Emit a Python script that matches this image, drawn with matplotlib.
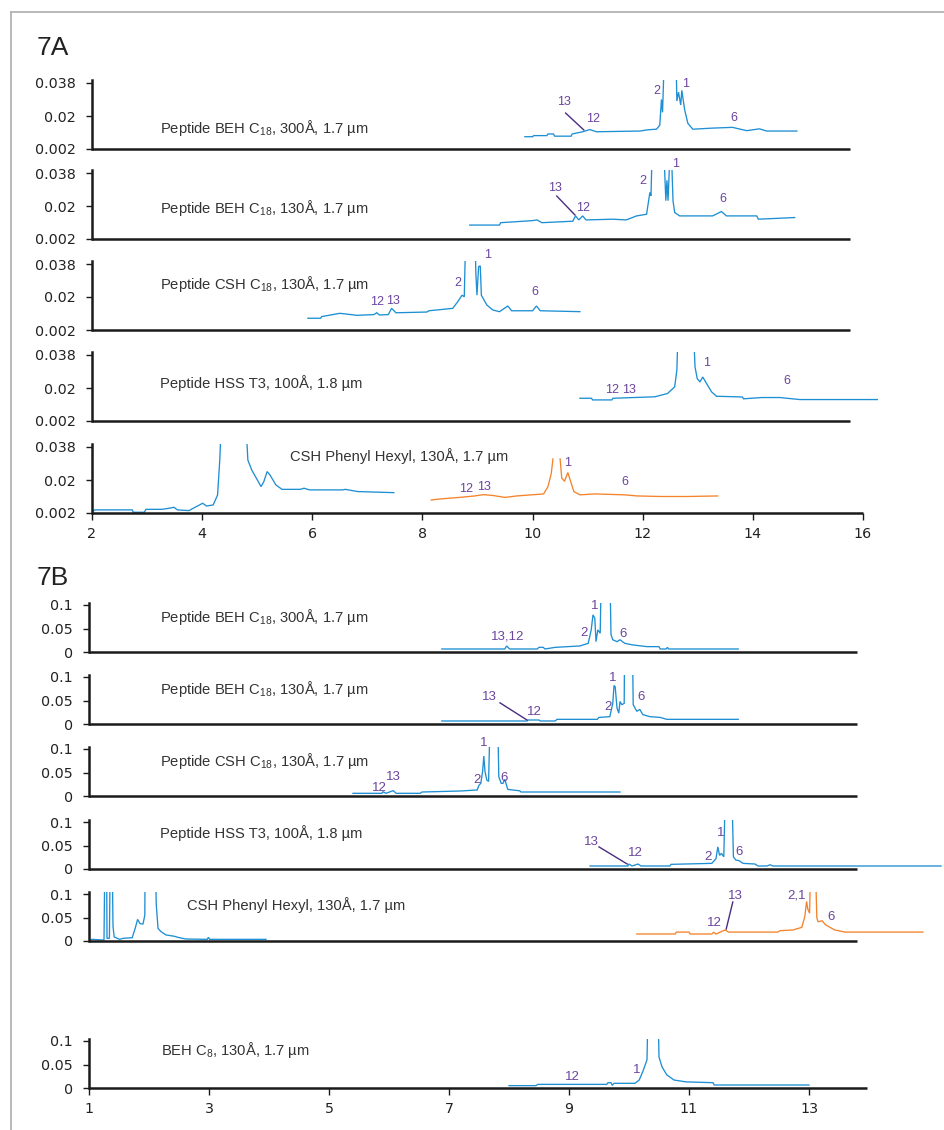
import numpy as np
import matplotlib
matplotlib.use("Agg")
import matplotlib.pyplot as plt
from matplotlib.lines import Line2D

W, H = 944, 1130
BLUE = '#1e8fd3'
ORANGE = '#f5832b'
PURPLE = '#6b449e'
LEADER = '#4a2d80'
INK = '#1a1a1a'

plt.rcParams.update({
    'font.family': 'DejaVu Sans',
    'mathtext.fontset': 'custom',
    'mathtext.rm': 'Liberation Sans',
    'mathtext.it': 'Liberation Sans:italic',
    'mathtext.bf': 'Liberation Sans:bold',
})

# ---------------------------------------------------------------------------
# Data (retention time in min, absorbance)
# ---------------------------------------------------------------------------
labels_a = ['Peptide BEH C$_{18}$, 300Å, 1.7 µm',
            'Peptide BEH C$_{18}$, 130Å, 1.7 µm',
            'Peptide CSH C$_{18}$, 130Å, 1.7 µm',
            'Peptide HSS T3, 100Å, 1.8 µm',
            'CSH Phenyl Hexyl, 130Å, 1.7 µm']
labels_b = labels_a + ['BEH C$_{8}$, 130Å, 1.7 µm']

yticks_a = [0.002, 0.02, 0.038]
ytick_labels_a = ['0.002', '0.02', '0.038']
yticks_b = [0, 0.05, 0.1]
ytick_labels_b = ['0', '0.05', '0.1']
xticks_a = [2, 4, 6, 8, 10, 12, 14, 16]
xticks_b = [1, 3, 5, 7, 9, 11, 13]

# 7A traces
a1_t = [9.86, 10.00, 10.02, 10.26, 10.28, 10.38, 10.40, 10.70, 10.72, 10.91, 11.04, 11.16,
        11.95, 12.10, 12.25, 12.31, 12.34, 12.36, 12.40, 12.60, 12.62, 12.65, 12.69, 12.71,
        12.76, 12.82, 12.91, 13.27, 13.63, 13.89, 14.12, 14.25, 14.80]
a1_y = [0.0087, 0.0087, 0.0093, 0.0093, 0.0102, 0.0102, 0.0090, 0.0090, 0.0102, 0.0114, 0.0126, 0.0114,
        0.0118, 0.0125, 0.0128, 0.0150, 0.0290, 0.0220, 0.060, 0.060, 0.0282, 0.0330, 0.0260, 0.0340,
        0.0236, 0.0160, 0.0128, 0.0134, 0.0138, 0.0120, 0.0130, 0.0118, 0.0118]

a2_t = [8.86, 9.40, 9.42, 9.99, 10.08, 10.17, 10.73, 10.78, 10.84, 10.91, 10.97, 11.46,
        11.70, 11.89, 12.07, 12.13, 12.15, 12.18, 12.37, 12.42, 12.44, 12.46, 12.51, 12.55,
        12.58, 12.67, 13.27, 13.43, 13.52, 14.07, 14.10, 14.76]
a2_y = [0.0096, 0.0096, 0.0109, 0.0120, 0.0124, 0.0109, 0.0117, 0.0146, 0.0124, 0.0146, 0.0124, 0.0128,
        0.0124, 0.0146, 0.0155, 0.0274, 0.0256, 0.060, 0.060, 0.0229, 0.0340, 0.0229, 0.060, 0.0229,
        0.0165, 0.0146, 0.0146, 0.0170, 0.0146, 0.0146, 0.0128, 0.0137]

a3_t = [5.92, 6.15, 6.17, 6.50, 6.62, 6.81, 7.12, 7.17, 7.22, 7.38, 7.44, 7.52, 8.08, 8.12,
        8.55, 8.64, 8.72, 8.76, 8.79, 8.95, 8.97, 8.99, 9.02, 9.05, 9.07, 9.17, 9.28, 9.40,
        9.55, 9.62, 10.00, 10.07, 10.14, 10.86]
a3_y = [0.0084, 0.0084, 0.0093, 0.0111, 0.0107, 0.0100, 0.0104, 0.0114, 0.0102, 0.0104, 0.0138, 0.0114,
        0.0118, 0.0125, 0.0138, 0.0174, 0.0210, 0.0201, 0.060, 0.060, 0.0329, 0.0210, 0.0365, 0.0370,
        0.0210, 0.0156, 0.0129, 0.0120, 0.0151, 0.0125, 0.0125, 0.0151, 0.0125, 0.0120]

a4_t = [10.86, 11.07, 11.09, 11.44, 11.46, 12.22, 12.45, 12.58, 12.62, 12.65, 12.91, 12.95,
        12.99, 13.04, 13.09, 13.16, 13.25, 13.34, 13.81, 13.83, 14.16, 14.49, 14.85, 15.79, 16.26]
a4_y = [0.0144, 0.0144, 0.0135, 0.0135, 0.0144, 0.0152, 0.0170, 0.0206, 0.0297, 0.060, 0.060, 0.0315,
        0.0251, 0.0233, 0.0260, 0.0224, 0.0179, 0.0155, 0.0151, 0.0141, 0.0148, 0.0148, 0.0137, 0.0137,
        0.0137]

a5_blue_t = [2.00, 2.05, 2.73, 2.75, 2.95, 2.98, 3.27, 3.40, 3.49, 3.55, 3.76, 3.87, 4.01, 4.08,
             4.20, 4.28, 4.32, 4.36, 4.78, 4.83, 4.90, 5.02, 5.07, 5.12, 5.18, 5.23, 5.34, 5.45,
             5.78, 5.85, 5.95, 6.55, 6.60, 6.82, 7.48]
a5_blue_y = [0.0027, 0.0037, 0.0037, 0.0024, 0.0024, 0.0040, 0.0040, 0.0046, 0.0051, 0.0037, 0.0033,
             0.0051, 0.0073, 0.0058, 0.0064, 0.0118, 0.0309, 0.060, 0.060, 0.0309, 0.0255, 0.0191,
             0.0164, 0.0191, 0.0246, 0.0228, 0.0173, 0.0149, 0.0149, 0.0155, 0.0146, 0.0146, 0.0149,
             0.0137, 0.0131]

a5_orange_t = [8.16, 8.30, 8.67, 8.95, 9.11, 9.27, 9.50, 9.71, 10.20, 10.28, 10.34, 10.37, 10.44,
               10.50, 10.53, 10.58, 10.64, 10.69, 10.75, 10.86, 11.13, 11.67, 11.90, 12.33, 12.80, 13.36]
a5_orange_y = [0.0091, 0.0096, 0.0105, 0.0113, 0.0120, 0.0116, 0.0105, 0.0113, 0.0124, 0.0164, 0.0237,
               0.0315, np.nan, 0.0315, 0.0210, 0.0193, 0.0241, 0.0193, 0.0137, 0.0119, 0.0124, 0.0119,
               0.0113, 0.0110, 0.0110, 0.0113]

# 7B traces
b1_t = [6.88, 7.93, 7.96, 8.01, 8.47, 8.50, 8.57, 8.60, 8.77, 9.18, 9.32, 9.37, 9.40, 9.43, 9.45,
        9.48, 9.52, 9.55, 9.67, 9.70, 9.73, 9.80, 9.85, 9.93, 10.07, 10.30, 10.50, 10.52, 10.62,
        10.64, 10.66, 11.82]
b1_y = [0.0064, 0.0064, 0.0128, 0.0064, 0.0064, 0.0099, 0.0099, 0.0064, 0.0099, 0.0128, 0.0184, 0.047,
        0.079, 0.072, 0.022, 0.047, 0.040, 0.25, 0.25, 0.037, 0.026, 0.022, 0.026, 0.0184, 0.0149,
        0.0114, 0.0114, 0.0064, 0.0064, 0.0099, 0.0064, 0.0064]

b2_t = [6.88, 8.30, 8.32, 8.50, 8.52, 8.77, 8.80, 9.47, 9.50, 9.68, 9.73, 9.75, 9.77, 9.80, 9.83,
        9.85, 9.88, 9.92, 9.93, 10.05, 10.07, 10.13, 10.18, 10.23, 10.35, 10.52, 10.63, 11.82]
b2_y = [0.0064, 0.0064, 0.0085, 0.0085, 0.0064, 0.0064, 0.0099, 0.0099, 0.0140, 0.0156, 0.044, 0.082,
        0.079, 0.034, 0.023, 0.048, 0.041, 0.044, 0.25, 0.25, 0.041, 0.027, 0.031, 0.020, 0.0156,
        0.0140, 0.0099, 0.0099]

b3_t = [5.40, 5.88, 5.90, 5.95, 6.07, 6.12, 6.52, 6.55, 7.18, 7.47, 7.50, 7.53, 7.56, 7.58, 7.60,
        7.63, 7.66, 7.70, 7.80, 7.83, 7.87, 7.90, 7.93, 7.98, 8.18, 8.20, 9.85]
b3_y = [0.0057, 0.0057, 0.0090, 0.0057, 0.0114, 0.0057, 0.0057, 0.0085, 0.0106, 0.0128, 0.023, 0.027,
        0.052, 0.085, 0.052, 0.034, 0.031, 0.25, 0.25, 0.041, 0.027, 0.027, 0.0355, 0.014, 0.011,
        0.0085, 0.0085]

b4_t = [9.35, 9.98, 10.00, 10.05, 10.15, 10.20, 10.68, 10.70, 11.38, 11.45, 11.48, 11.51, 11.54,
        11.58, 11.62, 11.70, 11.74, 11.78, 11.83, 11.90, 12.10, 12.15, 12.30, 12.35, 12.40, 15.20]
b4_y = [0.0064, 0.0064, 0.0106, 0.0064, 0.0106, 0.0064, 0.0064, 0.0099, 0.0120, 0.022, 0.047, 0.029,
        0.0333, 0.026, 0.25, 0.25, 0.026, 0.019, 0.018, 0.012, 0.0106, 0.0064, 0.0064, 0.0090, 0.0064,
        0.0064]

b5_blue_t = [1.00, 1.05, 1.25, 1.27, 1.29, 1.30, 1.34, 1.36, 1.38, 1.40, 1.42, 1.51, 1.57, 1.72,
             1.77, 1.81, 1.85, 1.90, 1.93, 1.94, 2.10, 2.12, 2.15, 2.20, 2.28, 2.43, 2.48, 2.61,
             2.97, 2.99, 3.01, 3.95]
b5_blue_y = [0.001, 0.0035, 0.0020, 0.25, 0.25, 0.0057, 0.0057, 0.25, 0.25, 0.031, 0.0085, 0.0035,
             0.0057, 0.0070, 0.027, 0.046, 0.037, 0.036, 0.055, 0.25, 0.25, 0.080, 0.027, 0.020,
             0.013, 0.0099, 0.0078, 0.0043, 0.0035, 0.0078, 0.0035, 0.0035]

b5_orange_t = [10.13, 10.77, 10.79, 11.00, 11.02, 11.38, 11.41, 11.45, 11.52, 11.60, 11.66, 12.48,
               12.52, 12.73, 12.88, 12.93, 12.96, 12.98, 13.01, 13.04, 13.09, 13.13, 13.15, 13.22,
               13.27, 13.35, 13.43, 13.60, 14.90]
b5_orange_y = [0.0149, 0.0149, 0.019, 0.019, 0.0149, 0.0149, 0.0185, 0.0149, 0.019, 0.0234, 0.019,
               0.019, 0.022, 0.0234, 0.029, 0.052, 0.084, 0.068, 0.059, 0.25, 0.25, 0.050, 0.041,
               0.043, 0.035, 0.029, 0.0234, 0.019, 0.019]

b6_t = [8.00, 8.45, 8.48, 9.63, 9.65, 9.70, 9.72, 9.75, 10.10, 10.17, 10.23, 10.30, 10.33, 10.47,
        10.50, 10.55, 10.63, 10.75, 10.95, 11.40, 11.42, 13.00]
b6_y = [0.0050, 0.0050, 0.0077, 0.0077, 0.0113, 0.0113, 0.0057, 0.0100, 0.0100, 0.0170, 0.035, 0.060,
        0.25, 0.25, 0.066, 0.045, 0.028, 0.017, 0.013, 0.0113, 0.0064, 0.0064]

traces_a = [[(a1_t, a1_y, BLUE)], [(a2_t, a2_y, BLUE)], [(a3_t, a3_y, BLUE)],
            [(a4_t, a4_y, BLUE)],
            [(a5_blue_t, a5_blue_y, BLUE), (a5_orange_t, a5_orange_y, ORANGE)]]
traces_b = [[(b1_t, b1_y, BLUE)], [(b2_t, b2_y, BLUE)], [(b3_t, b3_y, BLUE)],
            [(b4_t, b4_y, BLUE)],
            [(b5_blue_t, b5_blue_y, BLUE), (b5_orange_t, b5_orange_y, ORANGE)],
            [(b6_t, b6_y, BLUE)]]

# peak numbers: (text, time, height) and leader lines
peaks_a = [
    [('13', 10.57, 0.0276), ('12', 11.09, 0.0184), ('2', 12.25, 0.0336), ('1', 12.78, 0.0375), ('6', 13.65, 0.0189)],
    [('13', 10.40, 0.0298), ('12', 10.91, 0.0189), ('2', 12.00, 0.0334), ('1', 12.60, 0.0429), ('6', 13.45, 0.0238)],
    [('12', 7.17, 0.0173), ('13', 7.46, 0.0178), ('2', 8.64, 0.0276), ('1', 9.19, 0.0429), ('6', 10.04, 0.0227)],
    [('12', 11.44, 0.0189), ('13', 11.76, 0.0189), ('1', 13.16, 0.0336), ('6', 14.61, 0.0238)],
    [('12', 8.79, 0.0151), ('13', 9.11, 0.0162), ('1', 10.64, 0.0293), ('6', 11.67, 0.0189)],
]
leaders_a = {0: ((10.60, 10.93), (0.0216, 0.0124)), 1: ((10.44, 10.77), (0.0254, 0.0151))}
peaks_b = [
    [('13,12', 7.98, 0.034), ('2', 9.25, 0.040), ('1', 9.43, 0.098), ('6', 9.90, 0.038)],
    [('13', 7.68, 0.057), ('12', 8.43, 0.026), ('2', 9.65, 0.036), ('1', 9.73, 0.098), ('6', 10.20, 0.057)],
    [('12', 5.84, 0.016), ('13', 6.08, 0.041), ('2', 7.47, 0.034), ('1', 7.58, 0.113), ('6', 7.92, 0.038)],
    [('13', 9.37, 0.057), ('12', 10.10, 0.034), ('2', 11.32, 0.026), ('1', 11.53, 0.077), ('6', 11.83, 0.036)],
    [('12', 11.43, 0.038), ('13', 11.77, 0.096), ('2,1', 12.80, 0.096), ('6', 13.37, 0.051)],
    [('12', 9.05, 0.023), ('1', 10.13, 0.038)],
]
leaders_b = {1: ((7.85, 8.30), (0.045, 0.0085)), 3: ((9.50, 9.97), (0.047, 0.0106)),
             4: ((11.73, 11.62), (0.083, 0.0255))}

# ---------------------------------------------------------------------------
# Layout (pixels)
# ---------------------------------------------------------------------------
fig = plt.figure(figsize=(W / 100, H / 100), dpi=100)

def add_axes(left, right, bottom, height):
    return fig.add_axes([left / W, 1 - bottom / H, (right - left) / W, height / H])

def style(ax, yticks, ylabels, spine_end, show_x, xticks):
    for s in ('top', 'right'):
        ax.spines[s].set_visible(False)
    for s in ('left', 'bottom'):
        ax.spines[s].set_linewidth(1.8)
        ax.spines[s].set_color(INK)
    ax.spines['bottom'].set_bounds(ax.get_xlim()[0], spine_end)
    ax.spines['bottom'].set_capstyle('butt')
    ax.set_yticks(yticks, ylabels)
    ax.tick_params(axis='y', length=4.5, width=1, color=INK, pad=7,
                   labelsize=10.3, labelcolor='#222222')
    ax.set_xticks(xticks)
    if show_x:
        ax.tick_params(axis='x', length=5, width=1, color=INK, pad=5,
                       labelsize=10.3, labelcolor='#222222')
    else:
        ax.tick_params(axis='x', bottom=False, labelbottom=False)
    ax.patch.set_alpha(0)

# 7A: x 2..16 maps to px 92..863
bottoms_a = [149, 239, 330, 421, 513]
ppu_a = (863 - 92) / 14
for i, bot in enumerate(bottoms_a):
    ax = add_axes(92, 935, bot, 68.75)
    ax.set_xlim(2, 2 + (935 - 92) / ppu_a)
    ax.set_ylim(0.002, 0.0395)
    last = i == len(bottoms_a) - 1
    style(ax, yticks_a, ytick_labels_a, 16.0 if last else 15.76, last, xticks_a)
    for t, y, c in traces_a[i]:
        ax.plot(t, y, color=c, lw=0.95, solid_joinstyle='miter')
    for txt, x, y in peaks_a[i]:
        ax.text(x, y, txt, color=PURPLE, fontsize=9, family='Liberation Sans',
                ha='center', va='center', clip_on=False)
    if i in leaders_a:
        lx, ly = leaders_a[i]
        ax.plot(lx, ly, color=LEADER, lw=1.0)
    if last:
        ax.text(5.59, 0.0331, labels_a[i], fontsize=10.6, color='#333333',
                family='Liberation Sans', ha='left', va='center')
    else:
        ly = [0.0134, 0.0189, 0.0271, 0.0227][i]
        ax.text(3.23, ly, labels_a[i], fontsize=10.6, color='#333333',
                family='Liberation Sans', ha='left', va='center')

# 7B: x 1..14 maps to px 89..869
bottoms_b = [652, 724, 796, 869, 941, 1088]
ppu_b = 60.0
label_y_b = [0.0745, 0.0745, 0.0745, 0.0766, 0.077, 0.081]
label_x_b = [2.18, 2.18, 2.18, 2.18, 2.63, 2.20]
for i, bot in enumerate(bottoms_b):
    ax = add_axes(89, 944, bot, 49.35)
    ax.set_xlim(1, 1 + (944 - 89) / ppu_b)
    ax.set_ylim(0, 0.105)
    last = i == len(bottoms_b) - 1
    style(ax, yticks_b, ytick_labels_b, 13.97 if last else 13.8, last, xticks_b)
    for t, y, c in traces_b[i]:
        ax.plot(t, y, color=c, lw=0.95, solid_joinstyle='miter')
    for txt, x, y in peaks_b[i]:
        ax.text(x, y, txt, color=PURPLE, fontsize=9.5, family='Liberation Sans',
                ha='center', va='center', clip_on=False)
    if i in leaders_b:
        lx, ly = leaders_b[i]
        ax.plot(lx, ly, color=LEADER, lw=1.0)
    ax.text(label_x_b[i], label_y_b[i], labels_b[i], fontsize=10.6, color='#333333',
            family='Liberation Sans', ha='left', va='center')

# section titles
fig.text(37 / W, 1 - 48 / H, '7A', fontsize=19, family='Liberation Sans',
         color='#222222', ha='left', va='center')
fig.text(37 / W, 1 - 578 / H, '7B', fontsize=19, family='Liberation Sans',
         color='#222222', ha='left', va='center')

# grey page frame (top and left edges)
fig.add_artist(Line2D([11 / W, 11 / W], [0, 1 - 12 / H], transform=fig.transFigure,
                      color='#b3b3b3', lw=1.3))
fig.add_artist(Line2D([11 / W, 1], [1 - 12 / H, 1 - 12 / H], transform=fig.transFigure,
                      color='#b3b3b3', lw=1.3))

fig.savefig('out.png', dpi=100, facecolor='white')
